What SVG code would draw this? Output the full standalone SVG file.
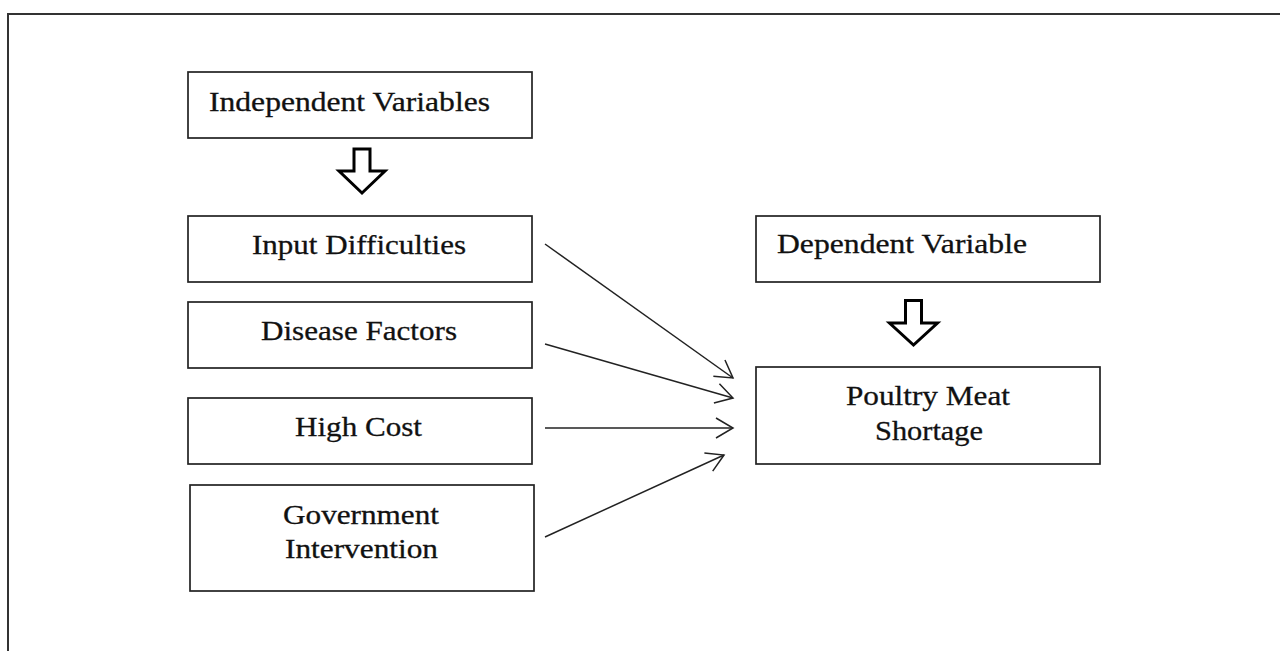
<svg xmlns="http://www.w3.org/2000/svg" width="1280" height="651" viewBox="0 0 1280 651">
<style>
.box{fill:#fff;stroke:#222;stroke-width:1.7}
.lbl{font-family:"Liberation Serif","Times New Roman",serif;font-size:28px;fill:#111;stroke:#111;stroke-width:0.3}
.con{fill:none;stroke:#222;stroke-width:1.5}
.blk{fill:#fff;stroke:#000;stroke-width:3;stroke-linejoin:miter}
</style>
<defs>
<marker id="open" markerUnits="userSpaceOnUse" viewBox="-20 -13 22 26" markerWidth="22" markerHeight="26" refX="0" refY="0" orient="auto">
<path d="M-17,-10 L0,0 L-17,10" fill="none" stroke="#222" stroke-width="1.5"/>
</marker>
</defs>
<rect width="1280" height="651" fill="#fff"/>
<rect x="8" y="14" width="1300" height="700" fill="none" stroke="#333" stroke-width="2"/>

<g id="independent-variables">
<rect class="box" x="188" y="72" width="344" height="66"/>
<text class="lbl" x="209" y="111" textLength="281" lengthAdjust="spacingAndGlyphs">Independent Variables</text>
</g>
<g id="arrow-independent">
<path class="blk" d="M354,149 L370,149 L370,171 L385,171 L362,193 L339,171 L354,171 Z"/>
</g>
<g id="input-difficulties">
<rect class="box" x="188" y="216" width="344" height="66"/>
<text class="lbl" x="252" y="254" textLength="214" lengthAdjust="spacingAndGlyphs">Input Difficulties</text>
</g>
<g id="disease-factors">
<rect class="box" x="188" y="302" width="344" height="66"/>
<text class="lbl" x="261" y="340" textLength="196" lengthAdjust="spacingAndGlyphs">Disease Factors</text>
</g>
<g id="high-cost">
<rect class="box" x="188" y="398" width="344" height="66"/>
<text class="lbl" x="295" y="436" textLength="127" lengthAdjust="spacingAndGlyphs">High Cost</text>
</g>
<g id="government-intervention">
<rect class="box" x="190" y="485" width="344" height="106"/>
<text class="lbl" x="283" y="524" textLength="156" lengthAdjust="spacingAndGlyphs">Government</text>
<text class="lbl" x="285" y="558" textLength="153" lengthAdjust="spacingAndGlyphs">Intervention</text>
</g>
<g id="dependent-variable">
<rect class="box" x="756" y="216" width="344" height="66"/>
<text class="lbl" x="777" y="253" textLength="250" lengthAdjust="spacingAndGlyphs">Dependent Variable</text>
</g>
<g id="arrow-dependent">
<path class="blk" d="M905.5,300.5 L921.5,300.5 L921.5,323 L937.5,323 L913.5,345 L889.5,323 L905.5,323 Z"/>
</g>
<g id="poultry-meat-shortage">
<rect class="box" x="756" y="367" width="344" height="97"/>
<text class="lbl" x="846" y="405" textLength="164" lengthAdjust="spacingAndGlyphs">Poultry Meat</text>
<text class="lbl" x="875" y="440" textLength="108" lengthAdjust="spacingAndGlyphs">Shortage</text>
</g>

<g id="connectors">
<line class="con" x1="545" y1="244" x2="733" y2="378" marker-end="url(#open)"/>
<line class="con" x1="545" y1="344" x2="733" y2="398" marker-end="url(#open)"/>
<line class="con" x1="545" y1="428" x2="733" y2="428" marker-end="url(#open)"/>
<line class="con" x1="545" y1="537" x2="724" y2="455" marker-end="url(#open)"/>
</g>
</svg>
